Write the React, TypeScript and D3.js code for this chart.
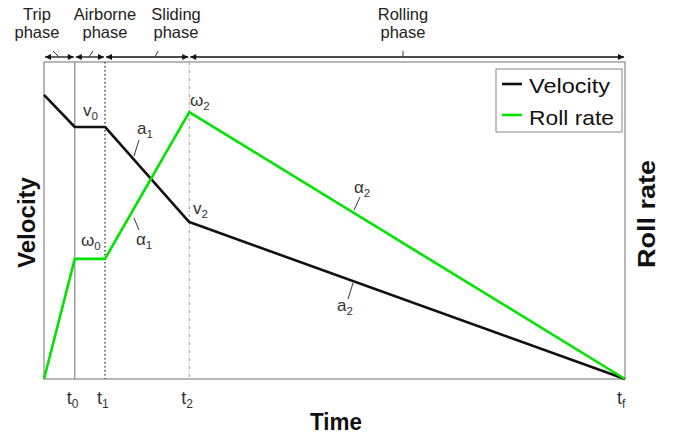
import React from "react";
import * as d3 from "d3";

// Phase boundary times (arbitrary units) and the two profiles sampled at them
const times = [0, 0.53, 1.05, 2.5, 10];
const velocity = [0.896, 0.795, 0.795, 0.495, 0];
const rollRate = [0, 0.379, 0.379, 0.842, 0];
const timeTicks = ["0", "1", "2", "f"];
const phaseNames = [["Trip", "phase"], ["Airborne", "phase"], ["Sliding", "phase"], ["Rolling", "phase"]];

const W = 674;
const H = 438;
const M = { left: 44, right: 625, top: 62, bottom: 379 };
const GREEN = "#00e400";
const FONT = "'Liberation Sans', Arial, Helvetica, sans-serif";

export default function App() {
  const x = d3.scaleLinear().domain([0, 10]).range([M.left, M.right]);
  const y = d3.scaleLinear().domain([0, 1]).range([M.bottom, M.top]);

  const vPts: [number, number][] = times.map((t, i) => [t, velocity[i]]);
  const rPts: [number, number][] = times.map((t, i) => [t, rollRate[i]]);
  const line = d3.line<[number, number]>().x((d) => x(d[0])).y((d) => y(d[1]));

  // Boundary times used for the phase arrows and tick marks
  const bounds = times;
  const tickTimes = times.slice(1);

  const arrowY = 57;
  const phaseCenters = [37, 105, 176, 403];
  const leaders = [
    [53, 51, 59, 57],
    [93, 51, 89, 57],
    [158, 51, 155, 57],
    [403, 51, 403, 57],
  ];

  const sub = (base: string, s: string, px: number, py: number, size = 17) => (
    <text x={px} y={py} fontSize={size} fill="#333" fontFamily={FONT}>
      {base}
      <tspan fontSize={size * 0.68} dy={4}>{s}</tspan>
    </text>
  );

  return (
    <svg width={W} height={H} style={{ position: "absolute", left: 0, top: 0, background: "#fff" }}>
      <defs>
        <marker id="ah" viewBox="0 0 10 10" refX="10" refY="5" markerWidth="8" markerHeight="6" orient="auto-start-reverse" markerUnits="userSpaceOnUse">
          <path d="M0,0 L10,5 L0,10 z" fill="#111" />
        </marker>
      </defs>

      {/* plot frame */}
      <rect x={M.left} y={M.top} width={M.right - M.left} height={M.bottom - M.top} fill="none" stroke="#888" strokeWidth={1.2} />

      {/* phase boundaries */}
      <line x1={x(times[1])} x2={x(times[1])} y1={M.top} y2={M.bottom} stroke="#888" strokeWidth={1.2} />
      <line x1={x(times[2])} x2={x(times[2])} y1={M.top} y2={M.bottom} stroke="#555" strokeWidth={1.6} strokeDasharray="1.5,2.5" />
      <line x1={x(times[3])} x2={x(times[3])} y1={M.top} y2={M.bottom} stroke="#999" strokeWidth={1} strokeDasharray="3,2,1,2" />

      {/* phase arrows */}
      {bounds.slice(0, -1).map((b, i) => (
        <line key={"a" + i} x1={x(b) + 1} x2={x(bounds[i + 1]) - 1} y1={arrowY} y2={arrowY} stroke="#111" strokeWidth={1.3}
          markerStart="url(#ah)" markerEnd="url(#ah)" />
      ))}
      {leaders.map((l, i) => (
        <line key={"l" + i} x1={l[0]} y1={l[1]} x2={l[2]} y2={l[3]} stroke="#333" strokeWidth={1} />
      ))}
      {phaseNames.map((p, i) => (
        <text key={"p" + i} x={phaseCenters[i]} textAnchor="middle" fontSize={16.5} fill="#222" fontFamily={FONT}>
          <tspan x={phaseCenters[i]} y={20}>{p[0]}</tspan>
          <tspan x={phaseCenters[i]} y={38}>{p[1]}</tspan>
        </text>
      ))}

      {/* profiles */}
      <path d={line(vPts) ?? ""} fill="none" stroke="#111" strokeWidth={2.6} strokeLinejoin="round" />
      <path d={line(rPts) ?? ""} fill="none" stroke={GREEN} strokeWidth={2.6} strokeLinejoin="round" />

      {/* point annotations */}
      {sub("v", "0", 83, 116)}
      {sub("a", "1", 137, 134)}
      <line x1={139} y1={140} x2={134} y2={156} stroke="#333" strokeWidth={1} />
      {sub("ω", "2", 190, 106)}
      {sub("ω", "0", 81, 246)}
      {sub("α", "1", 136, 245)}
      <line x1={139} y1={230} x2={134} y2={218} stroke="#333" strokeWidth={1} />
      {sub("v", "2", 193, 214)}
      {sub("α", "2", 354, 193)}
      <line x1={360} y1={197} x2={354} y2={210} stroke="#333" strokeWidth={1} />
      {sub("a", "2", 337, 311)}
      <line x1={353} y1={283} x2={348} y2={299} stroke="#333" strokeWidth={1} />

      {/* time ticks */}
      {tickTimes.map((t, i) => (
        <text key={"t" + i} x={x(t) - 8} y={404} fontSize={18} fill="#333" fontFamily={FONT}>
          t<tspan fontSize={12} dy={4}>{timeTicks[i]}</tspan>
        </text>
      ))}

      {/* axis titles */}
      <text x={310} y={430} textLength={52} lengthAdjust="spacingAndGlyphs" fontSize={23} fontWeight="bold" fill="#111" fontFamily={FONT}>Time</text>
      <text transform="translate(35,268) rotate(-90)" textLength={91} lengthAdjust="spacingAndGlyphs" fontSize={23} fontWeight="bold" fill="#111" fontFamily={FONT}>Velocity</text>
      <text transform="translate(655,268) rotate(-90)" textLength={108} lengthAdjust="spacingAndGlyphs" fontSize={23} fontWeight="bold" fill="#111" fontFamily={FONT}>Roll rate</text>

      {/* legend */}
      <rect x={496} y={69} width={126} height={63} fill="#fff" stroke="#888" strokeWidth={1} />
      <line x1={502} x2={522} y1={84} y2={84} stroke="#111" strokeWidth={2.6} />
      <line x1={502} x2={522} y1={115} y2={115} stroke={GREEN} strokeWidth={2.6} />
      <text x={529} y={93} textLength={81} lengthAdjust="spacingAndGlyphs" fontSize={21} fill="#111" fontFamily={FONT}>Velocity</text>
      <text x={529} y={125} textLength={85} lengthAdjust="spacingAndGlyphs" fontSize={21} fill="#111" fontFamily={FONT}>Roll rate</text>
    </svg>
  );
}
